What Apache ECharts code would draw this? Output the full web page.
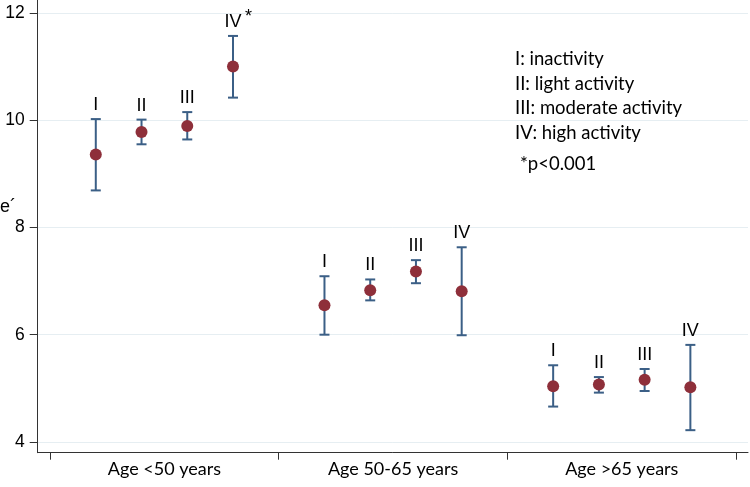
<!DOCTYPE html>
<html>
<head>
<meta charset="utf-8">
<script src="https://cdn.jsdelivr.net/npm/echarts@6/dist/echarts.min.js"></script>
<style>html,body{margin:0;padding:0;background:#fff}#c{width:750px;height:487px}</style>
</head>
<body>
<div id="c"></div>
<script>
var categories = ['Age <50 years', 'Age 50-65 years', 'Age >65 years'];
var yTicks = [4, 6, 8, 10, 12];
var means = [
  [9.36, 9.78, 9.89, 11.00],
  [6.55, 6.83, 7.18, 6.81],
  [5.04, 5.07, 5.16, 5.02]
];
var lowers = [
  [8.69, 9.55, 9.64, 10.42],
  [6.00, 6.64, 6.96, 5.99],
  [4.66, 4.92, 4.95, 4.22]
];
var uppers = [
  [10.02, 10.01, 10.15, 11.57],
  [7.09, 7.03, 7.39, 7.63],
  [5.43, 5.21, 5.36, 5.81]
];
var pointLabels = [
  ['I', 'II', 'III', 'IV*'],
  ['I', 'II', 'III', 'IV'],
  ['I', 'II', 'III', 'IV']
];
var legendLines = ['I: inactivity', 'II: light activity', 'III: moderate activity', 'IV: high activity'];
var noteText = '*p<0.001';

var pts = [], bars = [];
for (var g = 0; g < categories.length; g++) {
  for (var j = 0; j < means[g].length; j++) {
    var x = (g + 1) + (j - 1.5) * 0.2;
    pts.push([x, means[g][j]]);
    bars.push([x, lowers[g][j], uppers[g][j], pointLabels[g][j]]);
  }
}

var chart = echarts.init(document.getElementById('c'), null, {renderer: 'canvas'});
var axisColor = '#333';
var barColor = '#3B5F86';
var dotColor = '#8E2F3A';

var graphics = [];
legendLines.forEach(function (t, i) {
  graphics.push({type: 'text', x: 515, y: 59 + i * 24.7,
    style: {text: t, font: '18.5px Lato', fill: '#000', verticalAlign: 'middle'}});
});
graphics.push({type: 'text', x: 520, y: 164, style: {text: noteText, font: '18.5px Lato', fill: '#000', verticalAlign: 'middle'}});
graphics.push({type: 'text', x: 0, y: 207, style: {text: 'e\u00B4', font: '18px "Liberation Sans"', fill: '#000', verticalAlign: 'middle'}});

chart.setOption({
  animation: false,
  grid: {left: 37.7, right: 2, top: 0, bottom: 34.3},
  xAxis: {
    type: 'value', min: 0.446, max: 3.552,
    axisLine: {show: true, lineStyle: {color: axisColor, width: 1}},
    axisTick: {show: true, length: 7, customValues: [0.5, 1.5, 2.5, 3.5], lineStyle: {color: axisColor}},
    axisLabel: {customValues: [1, 2, 3], margin: 7, fontFamily: 'Lato', fontSize: 18, color: '#000',
      formatter: function (v) { return categories[Math.round(v) - 1] || ''; }},
    splitLine: {show: false}
  },
  yAxis: {
    type: 'value', min: 3.8, max: 12.24,
    axisLine: {show: true, lineStyle: {color: axisColor, width: 1}},
    axisTick: {show: true, length: 8, customValues: yTicks, lineStyle: {color: axisColor}},
    axisLabel: {customValues: yTicks, margin: 13, fontFamily: 'Liberation Sans', fontSize: 17.5, color: '#000'},
    splitLine: {show: true, lineStyle: {color: '#E6EEF2', width: 1}}
  },
  graphic: graphics,
  series: [
    {
      type: 'custom',
      data: bars,
      encode: {x: 0, y: [1, 2]},
      renderItem: function (params, api) {
        var x = api.value(0);
        var lo = api.coord([x, api.value(1)]);
        var hi = api.coord([x, api.value(2)]);
        var hw = 5;
        var style = {stroke: barColor, lineWidth: 2};
        var lbl = String(api.value(3));
        var children = [
          {type: 'line', shape: {x1: lo[0], y1: lo[1], x2: hi[0], y2: hi[1]}, style: style},
          {type: 'line', shape: {x1: lo[0] - hw, y1: lo[1], x2: lo[0] + hw, y2: lo[1]}, style: style},
          {type: 'line', shape: {x1: hi[0] - hw, y1: hi[1], x2: hi[0] + hw, y2: hi[1]}, style: style}
        ];
        var star = lbl.indexOf('*') >= 0;
        var base = star ? lbl.replace('*', '') : lbl;
        children.push({type: 'text', x: hi[0], y: hi[1] - 5,
          style: {text: base, font: '18px "Liberation Sans"', fill: '#000', align: 'center', verticalAlign: 'bottom'}});
        if (star) {
          children.push({type: 'text', x: hi[0] + 12, y: hi[1] - 10,
            style: {text: '*', font: '18px "Liberation Sans"', fill: '#000', align: 'left', verticalAlign: 'bottom'}});
        }
        return {type: 'group', children: children};
      },
      z: 2
    },
    {
      type: 'scatter',
      data: pts,
      symbol: 'circle',
      symbolSize: 12,
      itemStyle: {color: dotColor, opacity: 1},
      z: 3
    }
  ]
});
</script>
</body>
</html>
